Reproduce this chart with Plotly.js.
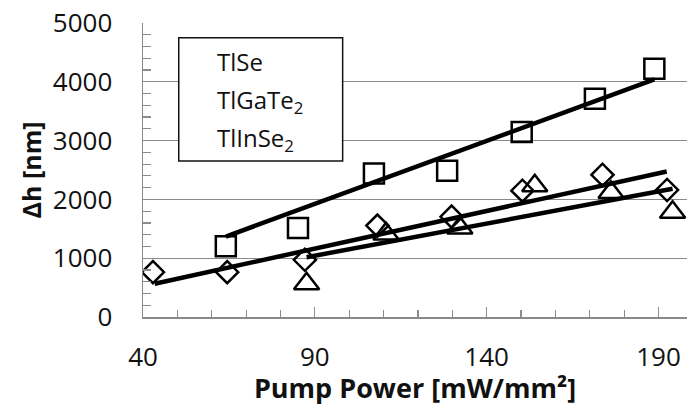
<!DOCTYPE html>
<html>
<head>
<meta charset="utf-8">
<script src="https://cdn.plot.ly/plotly-3.0.1.min.js"></script>
<style>
  html, body { margin: 0; padding: 0; background: #fff; }
  #chart { width: 687px; height: 406px; }
</style>
</head>
<body>
<div id="chart"></div>
<script>
// Series names (legend text)
const seriesNames = ['TlSe', 'TlGaTe<sub>2</sub>', 'TlInSe<sub>2</sub>'];

// Measured deflection Δh [nm] versus pump power [mW/mm²]
const tlseX = [64.1, 85.1, 107.2, 128.5, 150.2, 171.5, 188.8];
const tlseY = [1203, 1515, 2441, 2487, 3148, 3712, 4221];

const tlgateX = [42.9, 64.5, 87.1, 108.2, 129.8, 150.4, 173.7, 192.5];
const tlgateY = [763, 763, 973, 1554, 1707, 2148, 2419, 2160];

const tlinseX = [87.6, 110.7, 132.2, 154.0, 176.2, 194.1];
const tlinseY = [566, 1413, 1515, 2232, 2119, 1780];

// Linear trend lines (end points)
const tlseTrendX = [64.1, 188.8];
const tlseTrendY = [1368, 4041];
const tlgateTrendX = [43.4, 192.4];
const tlgateTrendY = [566, 2475];
const tlinseTrendX = [87.6, 194.1];
const tlinseTrendY = [1017, 2180];

// Axis ticks
const xTickVals = [40, 90, 140, 190];
const yTickVals = [0, 1000, 2000, 3000, 4000, 5000];

const FONT = 'Open Sans, Noto Sans, sans-serif';
const GRAY = '#8a8a8a';

function markers(x, y, symbol, size, name) {
  return {
    type: 'scatter', mode: 'markers', x: x, y: y, name: name,
    showlegend: false, hoverinfo: 'skip',
    marker: { symbol: symbol, size: size, color: '#000',
              line: { color: '#000', width: 2.5 } }
  };
}
function trend(x, y) {
  return {
    type: 'scatter', mode: 'lines', x: x, y: y, showlegend: false,
    hoverinfo: 'skip', line: { color: '#000', width: 4.5 }
  };
}

const data = [
  markers(tlseX, tlseY, 'square-open', 20, seriesNames[0]),
  markers(tlgateX, tlgateY, 'diamond-open', 17, seriesNames[1]),
  markers(tlinseX, tlinseY, 'triangle-up-open', 22, seriesNames[2]),
  trend(tlseTrendX, tlseTrendY),
  trend(tlgateTrendX, tlgateTrendY),
  trend(tlinseTrendX, tlinseTrendY)
];

// Text-only legend box
const legendRows = [0.868, 0.735, 0.606];
const annotations = seriesNames.map((n, i) => ({
  xref: 'paper', yref: 'paper', x: 0.132, y: legendRows[i],
  xanchor: 'left', yanchor: 'middle', showarrow: false,
  text: n, font: { family: FONT, size: 24, color: '#111' }
}));

const layout = {
  width: 687, height: 406,
  margin: { l: 143, r: 0, t: 23, b: 89 },
  paper_bgcolor: '#fff', plot_bgcolor: '#fff',
  font: { family: FONT, color: '#111' },
  showlegend: false,
  xaxis: {
    range: [40, 198.3], tickvals: xTickVals, ticks: 'inside', ticklen: 10,
    tickcolor: GRAY, tickwidth: 1.2, showgrid: false, zeroline: false,
    showline: true, linecolor: GRAY, linewidth: 1.5,
    tickfont: { family: FONT, size: 26, color: '#111' },
    ticklabelstandoff: 16,
    minor: { dtick: 10, tick0: 40, ticks: 'inside', ticklen: 7, tickcolor: GRAY, tickwidth: 1.2, showgrid: false },
    title: { text: '<b>Pump Power [mW/mm²]</b>', font: { family: FONT, size: 27, color: '#111' }, standoff: 8 }
  },
  yaxis: {
    range: [0, 5000], tickvals: yTickVals, ticks: 'inside', ticklen: 8,
    tickcolor: GRAY, tickwidth: 1.2, showgrid: true, gridcolor: GRAY, gridwidth: 1.2,
    zeroline: false, showline: true, linecolor: GRAY, linewidth: 1.5,
    tickfont: { family: FONT, size: 26, color: '#111' },
    ticklabelstandoff: 24,
    minor: { dtick: 200, ticks: 'inside', ticklen: 8, tickcolor: GRAY, tickwidth: 1.2, showgrid: false },
    title: { text: '<b>Δh [nm]</b>', font: { family: FONT, size: 25, color: '#111' }, standoff: 4 }
  },
  shapes: [{
    type: 'rect', xref: 'paper', yref: 'paper', layer: 'above',
    x0: 0.0657, x1: 0.367, y0: 0.531, y1: 0.950,
    fillcolor: '#fff', line: { color: '#111', width: 1.5 }
  }],
  annotations: annotations
};

Plotly.newPlot('chart', data, layout, { staticPlot: true, displayModeBar: false });
</script>
</body>
</html>
